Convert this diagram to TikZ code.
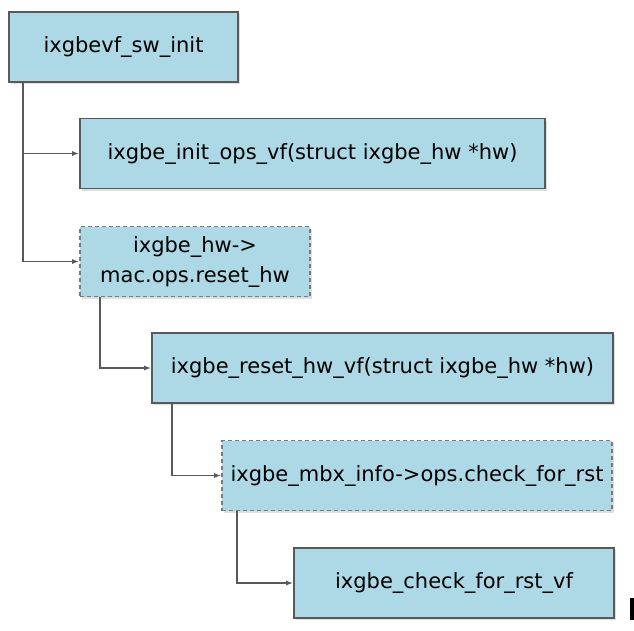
\documentclass[tikz,border=0pt]{standalone}
\usepackage{fontspec}
\setmainfont{DejaVu Sans}
\usetikzlibrary{arrows.meta,shadows}
\definecolor{boxblue}{HTML}{ADD8E6}
\definecolor{edge}{HTML}{595959}
\begin{document}
\begin{tikzpicture}[
    x=1pt,y=-1pt,
    every node/.style={font=\fontsize{21}{30}\selectfont},
    fn/.style={draw=edge, line width=1.6pt, fill=boxblue, inner sep=0pt,
        minimum height=70pt, align=center,
        drop shadow={shadow xshift=2pt, shadow yshift=-2pt, opacity=0.25, fill=gray}},
    ptr/.style={fn, draw=edge!80, dashed, dash pattern=on 4pt off 3pt},
    conn/.style={draw=edge, line width=1.6pt, -{Latex[length=7pt,width=5pt]}}
]
    \useasboundingbox (0,0) rectangle (634,630);

    \node[fn, minimum width=229pt] (swinit) at (123.5,47) {ixgbevf\_sw\_init};
    \node[fn, minimum width=465pt] (initops) at (312.5,153.5) {ixgbe\_init\_ops\_vf(struct ixgbe\_hw *hw)};
    \node[ptr, minimum width=230pt] (resetptr) at (195,261.5) {ixgbe\_hw->\\mac.ops.reset\_hw};
    \node[fn, minimum width=461pt] (resetvf) at (382.5,368) {ixgbe\_reset\_hw\_vf(struct ixgbe\_hw *hw)};
    \node[ptr, minimum width=390pt] (rstptr) at (417,475.5) {ixgbe\_mbx\_info->ops.check\_for\_rst};
    \node[fn, minimum width=320pt] (rstvf) at (454,583) {ixgbe\_check\_for\_rst\_vf};

    \draw[conn] ([xshift=15pt]swinit.south west) |- (initops.west);
    \draw[conn] ([xshift=15pt]swinit.south west) |- (resetptr.west);
    \draw[conn] ([xshift=21pt]resetptr.south west) |- (resetvf.west);
    \draw[conn] ([xshift=21pt]resetvf.south west) |- (rstptr.west);
    \draw[conn] ([xshift=16pt]rstptr.south west) |- (rstvf.west);

    % cut-off mark at the right edge
    \fill[black] (630,598) rectangle (634,620);
\end{tikzpicture}
\end{document}
